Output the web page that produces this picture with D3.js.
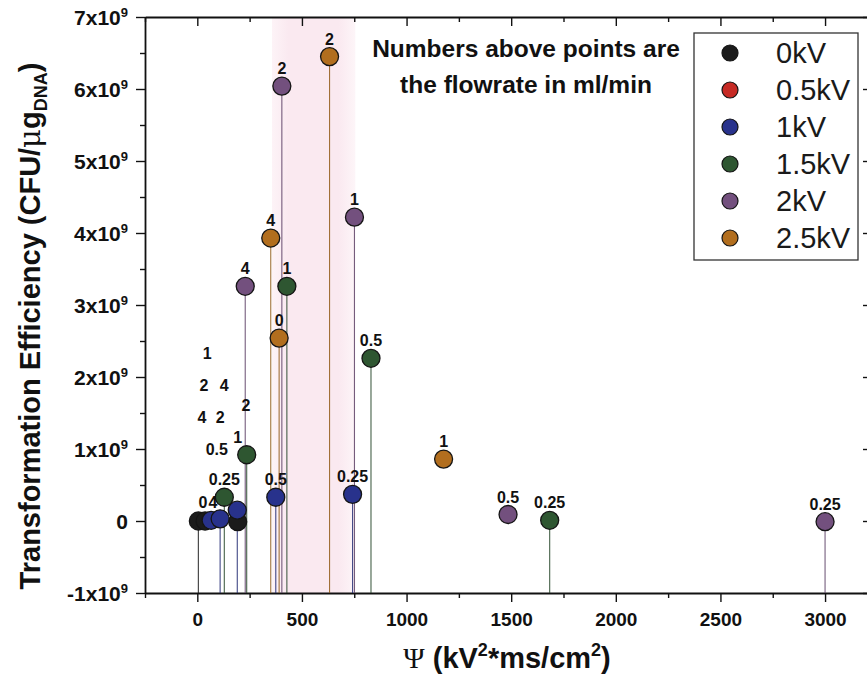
<!DOCTYPE html>
<html>
<head>
<meta charset="utf-8">
<script src="https://cdn.jsdelivr.net/npm/d3@7"></script>
<style>
  body { margin: 0; background: #fff; }
  svg  { display: block; font-family: "Liberation Sans", Arial, sans-serif; }
</style>
</head>
<body>
<svg id="chart" width="867" height="692"></svg>
<script>
/* ------------------------------- data -------------------------------- */
const voltages = ['0kV', '0.5kV', '1kV', '1.5kV', '2kV', '2.5kV'];
const colors   = ['#1b1b1b', '#c62a24', '#28328c', '#2e5631', '#73507e', '#b26e1e'];

// [psi (kV^2*ms/cm^2), efficiency (x1e9 CFU/ug), flowrate label, drop line]
const pts0kV  = [[5, 0, '', true], [37, 0, '', false], [193, -0.01, '', false]];
const pts05kV = [];
const pts1kV  = [[66, 0.01, '', false], [109, 0.03, '', true], [191, 0.15, '', true],
                 [375, 0.33, '0.5', true], [742, 0.37, '0.25', true]];
const pts15kV = [[129, 0.33, '0.25', true], [236, 0.92, '', true], [428, 3.26, '1', true],
                 [830, 2.26, '0.5', true], [1684, 0.01, '0.25', true]];
const pts2kV  = [[229, 3.26, '4', true], [404, 6.04, '2', true], [751, 4.22, '1', true],
                 [1485, 0.09, '0.5', false], [3000, -0.01, '0.25', true]];
const pts25kV = [[351, 3.93, '4', true], [632, 6.45, '2', true], [391, 2.54, '0', true],
                 [1177, 0.86, '1', false]];
const seriesPts = [pts0kV, pts05kV, pts1kV, pts15kV, pts2kV, pts25kV];

// flowrate labels whose points sit hidden in the cluster near zero: [text, psi, eff]
const looseLabels = [['1', 47, 2.33], ['2', 32, 1.89], ['4', 128, 1.89], ['4', 22, 1.44],
                     ['2', 109, 1.44], ['2', 232, 1.61], ['1', 193, 1.17], ['0.5', 93, 1.0],
                     ['0', 27, 0.26], ['4', 75, 0.26]];

const band      = [357, 755];           // shaded psi range
const xMajor    = [0, 500, 1000, 1500, 2000, 2500, 3000];
const yMajor    = [-1, 0, 1, 2, 3, 4, 5, 6, 7];
const noteLines = ['Numbers above points are', 'the flowrate in ml/min'];

/* ------------------------------- setup ------------------------------- */
const svg = d3.select('#chart');
const L = 145, R = 869, T = 17, B = 593;
const x = d3.scaleLinear().domain([-250, 3210]).range([L, R]);
const y = d3.scaleLinear().domain([-1, 7]).range([B, T]);

const defs = svg.append('defs');
const grad = defs.append('linearGradient').attr('id', 'bandGrad');
[['0%', '#fdf3f7'], ['20%', '#fae9f0'], ['80%', '#fae9f0'], ['100%', '#fdf5f8']]
  .forEach(([o, c]) => grad.append('stop').attr('offset', o).attr('stop-color', c));

svg.append('rect')
  .attr('x', x(band[0])).attr('y', T)
  .attr('width', x(band[1]) - x(band[0])).attr('height', B - T)
  .attr('fill', 'url(#bandGrad)');

/* ------------------------------- axes -------------------------------- */
function styleAxis(g, keepDomain) {
  g.selectAll('line').attr('stroke', '#111').attr('stroke-width', 1.4);
  if (keepDomain) g.select('.domain').attr('stroke', '#111').attr('stroke-width', 1.8);
  else g.select('.domain').remove();
  g.selectAll('text').remove();
}
const xMinor = d3.range(-250, 3211, 250).filter(v => !xMajor.includes(v));
const yMinor = d3.range(-0.5, 7, 1);

// bottom
svg.append('g').attr('transform', `translate(0,${B})`)
  .call(d3.axisBottom(x).tickValues(xMajor).tickFormat(d3.format('d')).tickSize(9).tickSizeOuter(0))
  .call(g => { g.selectAll('line').attr('stroke', '#111').attr('stroke-width', 1.4);
               g.select('.domain').attr('stroke', '#111').attr('stroke-width', 1.8);
               g.selectAll('text').attr('font-size', 19).attr('font-weight', 'bold')
                .attr('fill', '#111').attr('dy', '1.1em'); });
svg.append('g').attr('transform', `translate(0,${B})`)
  .call(d3.axisBottom(x).tickValues(xMinor).tickSize(5)).call(g => styleAxis(g, false));

// top (inward ticks)
svg.append('g').attr('transform', `translate(0,${T})`)
  .call(d3.axisBottom(x).tickValues(xMajor).tickSize(9).tickSizeOuter(0)).call(g => styleAxis(g, true));
svg.append('g').attr('transform', `translate(0,${T})`)
  .call(d3.axisBottom(x).tickValues(xMinor).tickSize(5)).call(g => styleAxis(g, false));

// left
const yAx = svg.append('g').attr('transform', `translate(${L},0)`)
  .call(d3.axisLeft(y).tickValues(yMajor).tickSize(9).tickSizeOuter(0));
yAx.selectAll('line').attr('stroke', '#111').attr('stroke-width', 1.4);
yAx.select('.domain').attr('stroke', '#111').attr('stroke-width', 1.8);
yAx.selectAll('text').each(function(d) {
  const t = d3.select(this).text('').attr('x', -17).attr('dy', '0.35em')
    .attr('font-size', 21).attr('font-weight', 'bold').attr('fill', '#111');
  if (d === 0) { t.text('0'); return; }
  t.append('tspan').text(`${d}x10`);
  t.append('tspan').attr('dy', -8).attr('font-size', 13).text('9');
});
svg.append('g').attr('transform', `translate(${L},0)`)
  .call(d3.axisLeft(y).tickValues(yMinor).tickSize(5)).call(g => styleAxis(g, false));

// right (inward, majors only)
svg.append('g').attr('transform', `translate(${R},0)`)
  .call(d3.axisRight(y).tickValues(yMajor).tickSize(-6).tickSizeOuter(0)).call(g => styleAxis(g, true));

/* ------------------------------- marks ------------------------------- */
const flat = seriesPts.flatMap((arr, i) => arr.map(p => ({psi: p[0], eff: p[1], lab: p[2], stem: p[3], i})));

svg.append('g').selectAll('line')
  .data(flat.filter(d => d.stem))
  .join('line')
  .attr('x1', d => x(d.psi)).attr('x2', d => x(d.psi))
  .attr('y1', d => y(d.eff)).attr('y2', B)
  .attr('stroke', d => d3.color(colors[d.i]).darker(0.6))
  .attr('stroke-opacity', 0.85)
  .attr('stroke-width', 1.1);

svg.append('g').selectAll('circle')
  .data(flat)
  .join('circle')
  .attr('cx', d => x(d.psi)).attr('cy', d => y(d.eff))
  .attr('r', 9)
  .attr('fill', d => colors[d.i])
  .attr('stroke', '#151515').attr('stroke-width', 1.3);

const labG = svg.append('g').attr('font-size', 16).attr('font-weight', 'bold')
  .attr('fill', '#111').attr('text-anchor', 'middle');
labG.selectAll('text.pt')
  .data(flat.filter(d => d.lab))
  .join('text').attr('class', 'pt')
  .attr('x', d => x(d.psi)).attr('y', d => y(d.eff) - 12)
  .text(d => d.lab);
labG.selectAll('text.loose')
  .data(looseLabels)
  .join('text').attr('class', 'loose')
  .attr('x', d => x(d[1])).attr('y', d => y(d[2]) + 6)
  .text(d => d[0]);

/* ------------------------------- note & legend ----------------------- */
svg.append('g').selectAll('text')
  .data(noteLines)
  .join('text')
  .attr('x', 526).attr('y', (d, i) => 57 + i * 36)
  .attr('text-anchor', 'middle')
  .attr('font-size', 24.5).attr('font-weight', 'bold').attr('fill', '#111')
  .text(d => d);

const leg = svg.append('g').attr('transform', 'translate(694,33)');
leg.append('rect').attr('width', 164).attr('height', 227)
  .attr('fill', '#fff').attr('stroke', '#333').attr('stroke-width', 1.3);
const items = leg.selectAll('g.item').data(voltages).join('g').attr('class', 'item')
  .attr('transform', (d, i) => `translate(0,${20 + i * 37})`);
items.append('circle').attr('cx', 36).attr('r', 8)
  .attr('fill', (d, i) => colors[i]).attr('stroke', '#151515').attr('stroke-width', 1.2);
items.append('text').attr('x', 82).attr('dy', '0.36em')
  .attr('font-size', 29).attr('fill', '#1a1a1a').text(d => d);

/* ------------------------------- titles ------------------------------ */
const xt = svg.append('text').attr('x', 507).attr('y', 668).attr('text-anchor', 'middle')
  .attr('font-size', 29).attr('font-weight', 'bold').attr('fill', '#111');
xt.append('tspan').attr('font-family', '"Liberation Serif", "Times New Roman", serif')
  .attr('font-weight', 'normal').text('Ψ');
xt.append('tspan').text(' (kV');
xt.append('tspan').attr('dy', -12).attr('font-size', 18).text('2');
xt.append('tspan').attr('dy', 12).text('*ms/cm');
xt.append('tspan').attr('dy', -12).attr('font-size', 18).text('2');
xt.append('tspan').attr('dy', 12).text(')');

const yt = svg.append('text').attr('transform', 'translate(40,326) rotate(-90)')
  .attr('text-anchor', 'middle')
  .attr('font-size', 29).attr('font-weight', 'bold').attr('fill', '#111');
yt.append('tspan').text('Transformation Efficiency (CFU/');
yt.append('tspan').attr('font-family', '"DejaVu Serif", serif').attr('font-weight', 'normal').text('μ');
yt.append('tspan').text('g');
yt.append('tspan').attr('dy', 7).attr('font-size', 18).text('DNA');
yt.append('tspan').attr('dy', -7).text(')');
</script>
</body>
</html>
